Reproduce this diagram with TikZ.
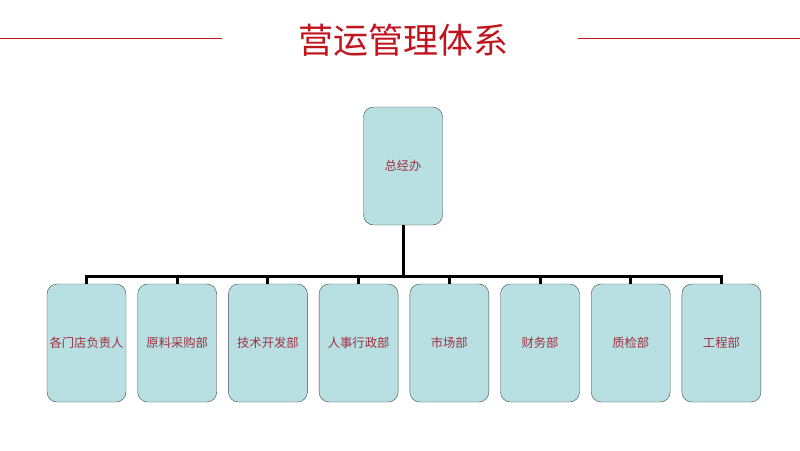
\documentclass[tikz,border=0pt]{standalone}
\usepackage{fontspec}
\newfontfamily\cjk{Noto Sans CJK SC}
\usepackage{xcolor}
\usetikzlibrary{positioning}
\definecolor{boxfill}{HTML}{B8DFE1}
\definecolor{boxline}{HTML}{404848}
\definecolor{titlered}{HTML}{C0141E}
\definecolor{textred}{HTML}{A03040}
\tikzset{
 unit box/.style={draw=boxline, fill=boxfill, rounded corners=10pt, minimum width=79pt, minimum height=118pt, inner sep=0pt, font=\cjk\fontsize{12.3}{14}\selectfont, text=textred},
 bus line/.style={line width=3pt, black}
}
\begin{document}
\begin{tikzpicture}[x=1pt, y=-1pt, node distance=11.3pt]
 \useasboundingbox (0,0) rectangle (800,450);
%
 \node[font=\cjk\fontsize{35}{40}\selectfont, text=titlered] (title) at (403,40) {营运管理体系};
 \coordinate (tl) at (0,38);
 \coordinate (tl2) at (222,38);
 \coordinate (tr) at (800,38);
 \coordinate (tr2) at (578,38);
 \draw[titlered, line width=0.6pt] (tl) -- (tl2);
 \draw[titlered, line width=0.6pt] (tr2) -- (tr);
%
 \node[unit box] (head) at (403,166) {总经办};
%
 \node[unit box] (u1) at (86.5,343) {各门店负责人};
 \node[unit box, right=of u1] (u2) {原料采购部};
 \node[unit box, right=of u2] (u3) {技术开发部};
 \node[unit box, right=of u3] (u4) {人事行政部};
 \node[unit box, right=of u4] (u5) {市场部};
 \node[unit box, right=of u5] (u6) {财务部};
 \node[unit box, right=of u6] (u7) {质检部};
 \node[unit box, right=of u7] (u8) {工程部};
%
 \coordinate (bus) at (403,276);
 \draw[bus line, line cap=rect] (u1.north |- bus) -- (u8.north |- bus);
 \draw[bus line] (head.south) -- (bus);
 \draw[bus line] (u1.north |- bus) -- (u1.north);
 \draw[bus line] (u2.north |- bus) -- (u2.north);
 \draw[bus line] (u3.north |- bus) -- (u3.north);
 \draw[bus line] (u4.north |- bus) -- (u4.north);
 \draw[bus line] (u5.north |- bus) -- (u5.north);
 \draw[bus line] (u6.north |- bus) -- (u6.north);
 \draw[bus line] (u7.north |- bus) -- (u7.north);
 \draw[bus line] (u8.north |- bus) -- (u8.north);
\end{tikzpicture}
\end{document}
